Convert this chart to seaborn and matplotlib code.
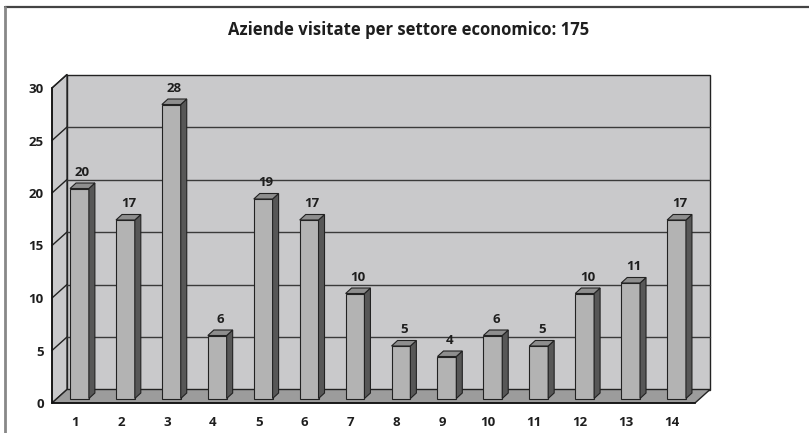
import seaborn as sns
import numpy as np
import pandas as pd
import matplotlib.pyplot as plt
from matplotlib.patches import Rectangle, Polygon
from matplotlib.lines import Line2D

settori = [str(i) for i in range(1, 15)]
aziende = [20, 17, 28, 6, 19, 17, 10, 5, 4, 6, 5, 10, 11, 17]
y_ticks = [0, 5, 10, 15, 20, 25, 30]
titolo = "Aziende visitate per settore economico: 175"

sns.set_style("white")
plt.rcParams['font.family'] = ['Open Sans', 'DejaVu Sans']

W, H = 809, 433
fig = plt.figure(figsize=(W / 100, H / 100), dpi=100)
# front box of the 3d frame, in pixels
x0, x1, yb, yt = 52, 695, 403, 88
ax = fig.add_axes([x0 / W, (H - yb) / H, (x1 - x0) / W, (yb - yt) / H])

df = pd.DataFrame({"settore": settori, "n": aziende})
sns.barplot(data=df, x="settore", y="n", order=settori, width=0.41,
            color="#b3b3b3", saturation=1, edgecolor="#222222", linewidth=0.8,
            ax=ax, zorder=3)
ax.set_xlim(-0.5, len(settori) - 0.5)
ax.set_ylim(0, 30)

# pixel -> data conversions for the fake depth
ux = (x1 - x0) / len(settori)
uy = (yb - yt) / 30
dx, dy = 15 / ux, 13.5 / uy          # depth of the frame
sx, sy = 4.5 / ux, 4.5 / uy          # bar set back from the front
bx, by = 6 / ux, 5.5 / uy            # depth of one bar

xl, xr = -0.5, len(settori) - 0.5
wall = "#c9c9cb"
kw = dict(clip_on=False, edgecolor="#222222", linewidth=1.0, zorder=0)
ax.add_patch(Rectangle((xl + dx, dy), xr - xl, 30, facecolor=wall, **kw))
ax.add_patch(Polygon([(xl, 0), (xl + dx, dy), (xl + dx, 30 + dy), (xl, 30)],
                     facecolor=wall, **kw))
ax.add_patch(Polygon([(xl, 0), (xr, 0), (xr + dx, dy), (xl + dx, dy)],
                     facecolor="#9c9c9c", **kw))
for v in y_ticks[1:-1]:
    ax.plot([xl + dx, xr + dx], [v + dy, v + dy], color="#3a3a3a", lw=1.0,
            clip_on=False, zorder=1)
for v in y_ticks[1:]:
    ax.plot([xl, xl + dx], [v, v + dy], color="#222222", lw=1.0,
            clip_on=False, zorder=1)

# push bars back and add side + top faces
for p, v in zip(ax.patches[:len(aziende)], aziende):
    p.set_x(p.get_x() + sx)
    p.set_y(sy)
    p.set_clip_on(False)
    l, w = p.get_x(), p.get_width()
    r = l + w
    top = sy + p.get_height()
    ax.add_patch(Polygon([(r, sy), (r + bx, sy + by), (r + bx, top + by), (r, top)],
                         facecolor="#575757", edgecolor="#222222", lw=0.8,
                         clip_on=False, zorder=3))
    ax.add_patch(Polygon([(l, top), (r, top), (r + bx, top + by), (l + bx, top + by)],
                         facecolor="#8e8e8e", edgecolor="#222222", lw=0.8,
                         clip_on=False, zorder=3))
    ax.annotate(str(v), (l + (w + bx) / 2, top + by), xytext=(0, 3),
                textcoords="offset points", ha="center", va="bottom",
                fontsize=9.5, fontweight="bold", color="#1e1e1e")

for s in ["top", "right"]:
    ax.spines[s].set_visible(False)
for s in ["left", "bottom"]:
    ax.spines[s].set_color("#111111")
    ax.spines[s].set_linewidth(1.2)
    ax.spines[s].set_zorder(2)

ax.set_yticks(y_ticks)
ax.set_yticklabels([str(t) for t in y_ticks], fontsize=9.5, fontweight="bold",
                   color="#1e1e1e")
ax.tick_params(axis="y", direction="out", length=4, width=1, pad=2, color="#111111")
ax.set_xticks(range(len(settori)))
ax.set_xticklabels(settori, fontsize=9.5, fontweight="bold", color="#1e1e1e")
ax.set_xticks(np.arange(len(settori) + 1) - 0.5, minor=True)
ax.tick_params(axis="x", which="major", length=0, pad=9)
ax.tick_params(axis="x", which="minor", direction="out", length=5, width=1,
               color="#111111")
ax.set_xlabel("")
ax.set_ylabel("")
ax.grid(False)
ax.patch.set_visible(False)

fig.text(409 / W, 1 - 30 / H, titolo, ha="center", va="center",
         fontsize=12, fontweight="bold", color="#1e1e1e")

# chart frame (only top and left edges visible)
fig.add_artist(Line2D([5 / W, 1], [1 - 6.5 / H] * 2, color="#444444", lw=1.6))
fig.add_artist(Line2D([5 / W] * 2, [0, 1 - 6.5 / H], color="#888888", lw=2))

plt.savefig("out.png", dpi=100)
